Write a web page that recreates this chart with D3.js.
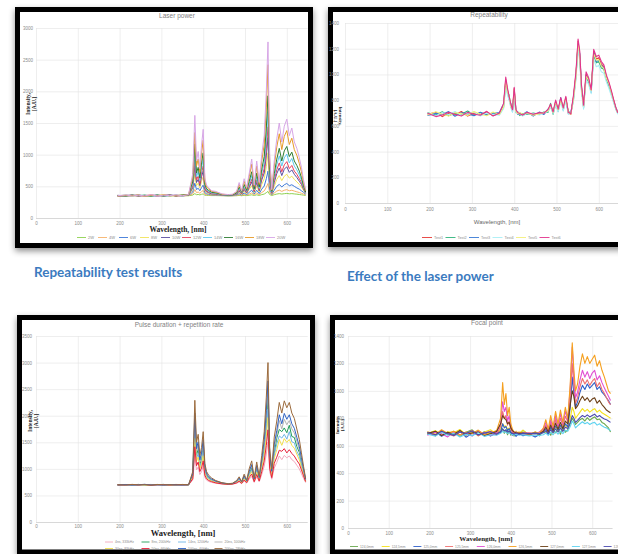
<!DOCTYPE html>
<html>
<head>
<meta charset="utf-8">
<script src="https://cdn.jsdelivr.net/npm/d3@7"></script>
<style>
    body { margin: 0; background: #fff; }
    svg { display: block; }
</style>
</head>
<body>
<div id="chart"></div>
<script>
// ---- shared x grid (nm) ----
const wavelength = [195,215,230,245,260,275,290,305,320,335,350,365,375,380,384,388,392,396,400,404,408,413,420,430,445,460,470,480,486,492,498,504,510,516,522,528,534,540,546,551,555,559,564,570,576,582,588,594,600,606,612,618,624,630,635,640,645];
const xTickValues = [0, 100, 200, 300, 400, 500, 600];

// ---- Laser power ----
const laserPowerNames = ["2W", "4W", "6W", "8W", "10W", "12W", "14W", "16W", "18W", "20W"];
const lp2W  = [351,354,349,356,352,349,355,351,354,350,353,352,362,385,368,372,365,374,380,360,357,356,354,354,352,350,351,352,357,352,358,354,360,366,356,366,356,369,378,400,420,370,355,368,378,385,378,384,388,382,385,380,376,371,366,361,356];
const lp4W  = [356,350,353,359,347,361,354,350,357,352,348,355,380,450,400,410,390,415,435,375,368,365,360,360,354,351,352,356,368,357,372,360,378,395,365,394,367,402,428,485,545,405,362,395,425,440,420,438,448,430,438,425,413,402,390,378,363];
const lp6W  = [349,355,361,348,357,352,346,358,363,350,356,357,410,550,450,470,430,480,520,400,383,377,366,365,356,352,354,362,385,364,395,370,405,440,380,438,385,455,505,620,740,460,372,440,500,530,490,525,545,510,525,500,475,455,430,405,375];
const lp8W  = [353,360,347,354,361,350,357,363,349,355,362,358,450,700,510,550,470,580,650,430,400,390,373,372,358,354,356,368,405,372,425,385,450,510,400,505,410,530,620,810,1030,530,385,500,610,670,590,660,690,630,660,610,570,530,490,435,385];
const lp10W = [358,349,355,363,348,356,361,347,356,359,349,360,480,830,560,610,510,650,740,455,415,400,380,377,361,356,359,375,425,380,450,395,480,570,415,560,430,600,710,980,1270,590,392,560,700,790,670,770,810,720,760,690,640,580,530,455,390];
const lp12W = [346,356,360,347,355,363,349,357,362,348,358,361,510,920,600,660,540,710,820,470,425,410,385,382,364,358,361,380,440,385,470,405,505,610,425,600,445,640,780,1100,1440,630,400,600,760,870,730,840,890,780,830,740,690,620,560,470,395];
const lp14W = [350,361,349,357,362,348,359,353,347,362,350,363,540,1040,650,730,590,790,930,500,445,420,395,390,366,360,364,388,465,395,500,420,540,670,445,650,465,710,870,1250,1680,700,410,650,840,980,820,950,1010,870,940,820,760,680,600,490,400];
const lp16W = [355,347,362,350,358,346,363,349,360,351,364,366,580,1170,710,800,630,870,1030,530,460,435,405,398,370,362,366,395,490,405,530,435,580,730,460,710,490,770,970,1420,1930,770,420,700,930,1100,900,1060,1130,970,1040,900,830,740,640,510,410];
const lp18W = [348,359,351,364,345,358,352,366,348,360,355,368,650,1350,820,930,720,1010,1230,580,490,460,420,410,375,368,372,410,530,420,580,460,650,850,500,820,530,900,1160,1750,2420,900,440,820,1120,1330,1080,1290,1380,1160,1260,1080,990,860,730,560,430];
const lp20W = [352,364,346,360,349,367,347,361,353,365,351,371,700,1620,900,1050,780,1150,1400,620,520,480,430,420,380,370,375,420,560,430,620,480,700,930,520,900,560,1000,1300,2000,2780,1000,450,900,1250,1500,1200,1450,1560,1300,1420,1200,1100,950,800,600,450];

// ---- Repeatability ----
const repeatNames = ["Test1", "Test2", "Test3", "Test4", "Test5", "Test6"];
const rpTest1 = [690,705,672,698,684,712,676,700,688,708,680,695,760,960,880,820,760,720,890,720,700,690,680,700,685,700,695,720,760,700,790,720,810,730,820,700,690,820,1000,1260,1150,900,750,1000,960,870,1180,1120,1130,1080,1060,980,930,860,800,740,700];
const rpTest2 = [702,685,710,678,699,690,715,683,704,687,701,690,745,930,860,840,745,735,860,705,712,680,695,688,700,690,708,705,775,690,770,735,790,745,800,712,700,800,980,1230,1130,880,765,980,940,885,1150,1090,1100,1050,1040,960,910,845,790,735,695];
const rpTest3 = [680,697,688,711,675,702,693,679,706,684,698,704,770,940,870,805,775,710,870,730,690,700,688,710,676,708,688,730,750,712,780,712,820,722,810,695,705,815,990,1240,1160,910,740,990,950,860,1170,1100,1110,1070,1050,970,920,850,795,745,705];
const rpTest4 = [695,678,703,689,712,681,699,708,677,700,689,682,735,900,840,800,740,705,850,700,708,692,676,695,693,685,700,712,745,695,760,708,785,715,795,690,698,790,960,1200,1100,860,730,960,920,850,1120,1060,1070,1020,1010,940,890,830,780,730,690];
const rpTest5 = [684,709,691,676,703,695,680,712,690,679,707,688,750,950,865,830,755,728,880,715,696,705,690,702,682,695,702,718,765,705,785,725,800,738,815,705,692,810,985,1250,1140,890,755,985,955,875,1160,1110,1115,1065,1045,970,925,855,798,742,702];
const rpTest6 = [698,672,684,706,690,676,705,690,682,713,676,700,775,980,895,830,770,725,900,728,705,695,684,705,690,703,698,728,770,708,800,730,820,740,830,705,695,835,1020,1275,1180,920,760,1020,975,880,1195,1140,1150,1100,1075,995,940,870,805,745,702];

// ---- Pulse duration + repetition rate ----
const pulseNames = ["4ns, 333kHz", "8ns, 200kHz", "14ns, 120kHz", "20ns, 100kHz", "30ns, 83kHz", "50ns, 66kHz", "100ns, 40kHz", "200ns, 28kHz"];
const pd4   = [703,698,701,706,697,704,700,695,702,698,705,699,788,1257,980,1033,893,945,1050,840,788,763,746,728,714,707,711,728,753,721,770,732,805,858,746,851,756,893,1050,1278,1505,945,805,1015,1120,1243,1173,1253,1208,1243,1173,1138,1068,998,910,823,742];
const pd8   = [696,703,700,707,695,702,699,708,694,703,700,697,875,1813,1260,1365,1085,1190,1400,980,875,826,791,756,728,714,721,756,805,742,840,763,910,1015,791,1001,812,1085,1400,1855,2310,1190,910,1290,1580,1740,1700,1770,1680,1820,1610,1590,1420,1310,1100,960,780];
const pd14  = [701,697,705,692,703,698,707,695,701,699,704,696,855,1686,1196,1289,1041,1134,1320,948,855,812,781,750,725,712,719,750,793,737,824,756,886,979,781,967,799,1041,1320,1723,2126,1134,886,1258,1470,1620,1580,1650,1560,1700,1510,1490,1330,1240,1060,930,770];
const pd20  = [705,699,702,694,700,707,696,704,698,702,693,706,895,1940,1324,1441,1129,1246,1480,1012,895,840,801,762,731,716,723,762,817,747,856,770,934,1051,801,1035,825,1129,1480,1987,2494,1246,934,1402,1636,1909,1753,1932,1831,1909,1753,1675,1519,1363,1168,973,794];
const pd30  = [699,706,697,703,700,694,705,701,697,708,699,702,838,1575,1140,1223,1003,1085,1250,920,838,799,772,744,722,711,717,744,783,733,810,750,865,948,772,937,788,1003,1250,1608,1965,1085,865,1195,1360,1553,1443,1569,1498,1553,1443,1388,1278,1168,1030,893,766];
const pd50  = [697,700,704,698,706,692,701,703,696,704,698,701,813,1416,1060,1128,948,1015,1150,880,813,781,759,736,718,709,714,736,768,727,790,741,835,903,759,894,772,948,1150,1443,1735,1015,835,1105,1220,1350,1330,1380,1300,1360,1290,1240,1160,1090,980,870,760];
const pd100 = [698,704,693,701,709,697,702,694,705,700,696,703,910,2050,1380,1510,1170,1300,1550,1040,910,855,810,770,735,718,725,768,828,752,870,777,955,1080,810,1065,836,1168,1550,2100,2655,1295,955,1465,1720,2018,1848,2043,1933,2018,1848,1763,1593,1423,1210,998,802];
const pd200 = [702,695,708,698,704,693,706,699,703,696,707,700,950,2290,1500,1650,1250,1400,1700,1100,950,880,830,780,740,720,730,780,850,760,900,790,1000,1150,830,1130,860,1250,1700,2350,3000,1400,1000,1600,1900,2250,2050,2280,2150,2250,2050,1950,1750,1550,1300,1050,820];

// ---- Focal point ----
const focalNames = ["124,0mm", "124,5mm", "125,0mm", "125,5mm", "126,0mm", "126,5mm", "127,0mm", "127,5mm", "128,0mm"];
const fp1240 = [700,672,712,684,705,668,698,716,676,702,688,710,700,725,690,718,680,712,676,705,670,700,684,712,678,698,672,706,690,712,676,716,694,722,684,730,698,718,760,800,780,755,770,790,800,780,805,785,800,810,790,795,770,760,745,730,700];
const fp1245 = [688,710,676,702,694,718,680,706,672,700,716,684,720,760,740,745,720,730,705,712,680,706,688,714,674,700,686,712,700,690,728,694,735,708,740,712,748,735,800,880,850,800,820,845,870,850,865,845,860,870,845,860,840,830,820,810,800];
const fp1250 = [682,700,668,694,676,705,662,690,680,698,670,692,700,760,730,740,710,725,700,676,692,668,690,672,686,664,682,700,720,680,735,700,745,712,750,720,760,740,880,1100,980,880,920,990,1040,1010,1050,1020,1040,1060,1010,1030,990,970,950,930,900];
const fp1255 = [694,676,708,688,670,700,684,712,672,694,706,680,740,850,800,820,750,780,720,700,690,695,692,688,694,690,688,712,750,700,770,715,790,735,800,745,815,775,960,1200,1040,910,950,1030,1090,1050,1080,1040,1070,1090,1030,1060,1010,980,950,920,900];
const fp1260 = [676,698,688,664,702,680,694,670,708,686,674,698,760,920,850,880,780,820,740,705,695,700,688,695,690,685,700,720,770,705,790,725,820,745,830,760,850,790,1020,1320,1100,950,990,1080,1150,1100,1140,1090,1130,1150,1080,1110,1060,1020,990,960,930];
const fp1265 = [702,684,716,690,706,678,700,688,714,680,696,708,800,1060,900,980,820,880,760,720,700,690,700,690,680,700,690,730,790,720,820,740,850,760,860,770,880,800,1050,1350,1150,1000,1050,1180,1270,1200,1250,1200,1230,1260,1180,1220,1150,1100,1050,1000,980];
const fp1270 = [690,706,674,698,684,712,678,694,700,672,688,704,760,820,800,790,760,770,730,710,700,694,690,692,688,690,686,705,735,700,750,710,765,720,770,725,780,760,900,1000,960,870,890,930,960,930,950,920,940,950,910,930,900,880,860,850,840];
const fp1275 = [686,670,698,676,690,664,684,672,694,668,680,676,690,705,698,700,690,695,686,682,678,684,676,680,672,678,674,680,692,676,698,680,702,684,706,688,712,705,740,780,760,730,745,760,775,760,770,755,765,770,750,760,745,735,730,720,710];
const fp1280 = [696,680,706,688,674,700,690,708,678,692,702,684,700,720,710,712,700,705,695,690,686,692,684,690,686,692,688,694,708,690,715,696,722,700,728,705,735,725,770,820,800,770,785,805,820,810,825,810,820,830,810,820,805,795,790,780,770];

// ---- drawing ----
const svg = d3.select("#chart").append("svg")
    .attr("width", 618)
    .attr("height", 554);

const defs = svg.append("defs");
defs.append("filter")
    .attr("id", "shadow")
    .attr("x", "-10%").attr("y", "-10%")
    .attr("width", "120%").attr("height", "125%")
    .append("feDropShadow")
    .attr("dx", 0).attr("dy", 3)
    .attr("stdDeviation", 3)
    .attr("flood-color", "#000")
    .attr("flood-opacity", 0.45);

const sans = "'Liberation Sans', Arial, sans-serif";
const serif = "'Liberation Serif', 'Times New Roman', serif";

function drawPanel(c) {
    const g = svg.append("g");

    // black slide frame
    g.append("rect")
        .attr("x", c.frame[0]).attr("y", c.frame[1])
        .attr("width", c.frame[2]).attr("height", c.frame[3])
        .attr("fill", "#fff")
        .attr("stroke", "#000")
        .attr("stroke-width", 5)
        .attr("filter", "url(#shadow)");

    const x = d3.scaleLinear().domain([0, 650]).range([c.x0, c.x0 + c.xStep * 6.5]);
    const y = d3.scaleLinear().domain([0, c.yMax]).range([c.y0, c.yTop]);

    // y axis + horizontal grid
    const yAxis = g.append("g")
        .attr("transform", `translate(${x(0)},0)`)
        .call(d3.axisLeft(y)
            .tickValues(d3.range(0, c.yMax + 1, c.yStep))
            .tickFormat(d3.format("d"))
            .tickSize(-(x(650) - x(0)))
            .tickPadding(c.yPad));
    yAxis.select(".domain").remove();
    yAxis.selectAll(".tick line")
        .attr("stroke", d => d === 0 ? "#bdbdbd" : "#e2e2e2")
        .attr("stroke-width", 0.6);
    yAxis.selectAll(".tick text")
        .attr("fill", "#8c8c8c")
        .style("font", `4.5px ${sans}`);

    // x axis + vertical grid
    const xAxis = g.append("g")
        .attr("transform", `translate(0,${y(0)})`)
        .call(d3.axisBottom(x)
            .tickValues(xTickValues)
            .tickSize(-(y(0) - y(c.yMax)))
            .tickPadding(c.xPad));
    xAxis.select(".domain").remove();
    xAxis.selectAll(".tick line")
        .attr("stroke", "#e2e2e2")
        .attr("stroke-width", 0.6);
    xAxis.selectAll(".tick text")
        .attr("fill", "#8c8c8c")
        .style("font", `4.5px ${sans}`);

    // spectra
    const line = d3.line()
        .x((d, i) => x(wavelength[i]))
        .y(d => y(d));

    g.append("g")
        .selectAll("path")
        .data(c.series)
        .join("path")
        .attr("d", line)
        .attr("fill", "none")
        .attr("stroke", (d, i) => c.colors[i])
        .attr("stroke-width", c.lineWidth)
        .attr("stroke-linejoin", "round");

    // chart title
    g.append("text")
        .attr("x", c.title[1]).attr("y", c.title[2])
        .attr("text-anchor", "middle")
        .attr("fill", "#7f7f7f")
        .style("font", `6.5px ${sans}`)
        .text(c.title[0]);

    // x axis title
    g.append("text")
        .attr("x", c.xTitle[0]).attr("y", c.xTitle[1])
        .attr("text-anchor", "middle")
        .attr("fill", c.xTitleSerif ? "#222" : "#666")
        .style("font", c.xTitleSerif ? `bold ${c.xTitle[2]}px ${serif}` : `${c.xTitle[2]}px ${sans}`)
        .text("Wavelength, [nm]");

    // y axis title, two lines, rotated
    const yt = g.append("text")
        .attr("transform", `translate(${c.yTitle[0]},${c.yTitle[1]}) rotate(${c.yTitle[2]})`)
        .attr("text-anchor", "middle")
        .attr("fill", "#222")
        .style("font", `bold ${c.yTitle[3]}px ${serif}`);
    yt.append("tspan").attr("x", 0).attr("dy", 0).text("Intensity,");
    yt.append("tspan").attr("x", 0).attr("dy", c.yTitle[3] * 1.05).text("[A.U.]");

    // legend
    const leg = g.append("g")
        .selectAll("g")
        .data(c.names)
        .join("g")
        .attr("transform", (d, i) => {
            const col = i % c.legend.perRow, row = Math.floor(i / c.legend.perRow);
            return `translate(${c.legend.x + col * c.legend.step},${c.legend.y + row * c.legend.rowStep})`;
        });
    leg.append("line")
        .attr("x1", 0).attr("x2", c.legend.len)
        .attr("y1", 0).attr("y2", 0)
        .attr("stroke", (d, i) => c.colors[i])
        .attr("stroke-width", 0.9);
    leg.append("text")
        .attr("x", c.legend.len + 2)
        .attr("y", c.legend.size * 0.35)
        .attr("fill", "#8c8c8c")
        .style("font", `${c.legend.size}px ${sans}`)
        .text(d => d);
}

drawPanel({
    frame: [17.5, 9.5, 293, 236],
    x0: 36, xStep: 41.8, y0: 218, yTop: 28, yMax: 3000, yStep: 500, yPad: 3, xPad: 4,
    series: [lp2W, lp4W, lp6W, lp8W, lp10W, lp12W, lp14W, lp16W, lp18W, lp20W],
    names: laserPowerNames,
    colors: ["#8fd14f", "#f6b26b", "#3c78d8", "#f1e35a", "#5b4ea0", "#e8425f", "#5ec8ee", "#2e7d32", "#e69a28", "#d7a6e6"],
    lineWidth: 1,
    title: ["Laser power", 177, 18],
    xTitle: [178, 232, 7.5], xTitleSerif: true,
    yTitle: [30, 104, -90, 5.5],
    legend: {x: 77, y: 237.5, step: 21, rowStep: 0, perRow: 10, len: 9, size: 4}
});

drawPanel({
    frame: [330.5, 9.5, 300, 235],
    x0: 345, xStep: 42.3, y0: 203, yTop: 23, yMax: 1400, yStep: 200, yPad: 6, xPad: 5,
    series: [rpTest1, rpTest2, rpTest3, rpTest4, rpTest5, rpTest6],
    names: repeatNames,
    colors: ["#e53935", "#2fb37a", "#3a7bd5", "#a8eef5", "#f4ef7a", "#e2338c"],
    lineWidth: 1.1,
    title: ["Repeatability", 489, 17],
    xTitle: [497, 224, 6], xTitleSerif: false,
    yTitle: [339, 116, 90, 4.8],
    legend: {x: 422, y: 237.5, step: 23.5, rowStep: 0, perRow: 6, len: 10, size: 3.8}
});

drawPanel({
    frame: [19.5, 317.5, 293, 234.5],
    x0: 36, xStep: 41.8, y0: 522, yTop: 336, yMax: 3500, yStep: 500, yPad: 4, xPad: 3,
    series: [pd4, pd8, pd14, pd20, pd30, pd50, pd100, pd200],
    names: pulseNames,
    colors: ["#f3a9bd", "#1f9e57", "#6fb7e6", "#b3b3b3", "#f2df4f", "#e8213b", "#2e62c4", "#9b6a3c"],
    lineWidth: 1,
    title: ["Pulse duration + repetition rate", 179, 327],
    xTitle: [183, 536, 8.5], xTitleSerif: true,
    yTitle: [32, 421, -90, 5.5],
    legend: {x: 105, y: 542, step: 36.5, rowStep: 6.5, perRow: 4, len: 8, size: 3.4}
});

drawPanel({
    frame: [332.5, 317.5, 300, 234.5],
    x0: 348, xStep: 40.7, y0: 528, yTop: 336, yMax: 1400, yStep: 200, yPad: 4, xPad: 4,
    series: [fp1240, fp1245, fp1250, fp1255, fp1260, fp1265, fp1270, fp1275, fp1280],
    names: focalNames,
    colors: ["#6aa84f", "#f5e11b", "#2f5fc9", "#ef6f6f", "#e14fd3", "#f5a020", "#6b3f16", "#5fd3f0", "#4b4bb0"],
    lineWidth: 1.1,
    title: ["Focal point", 487, 325],
    xTitle: [486, 541, 7], xTitleSerif: true,
    yTitle: [339, 425, -90, 4.5],
    legend: {x: 350, y: 546.5, step: 31.7, rowStep: 0, perRow: 9, len: 8, size: 3.3}
});

// slide captions
svg.append("text")
    .attr("x", 34).attr("y", 277)
    .attr("fill", "#3b7bbf")
    .style("font", "bold 13.5px Lato, 'Open Sans', sans-serif")
    .text("Repeatability test results");

svg.append("text")
    .attr("x", 347).attr("y", 281)
    .attr("fill", "#3b7bbf")
    .style("font", "bold 13.5px Lato, 'Open Sans', sans-serif")
    .text("Effect of the laser power");
</script>
</body>
</html>
